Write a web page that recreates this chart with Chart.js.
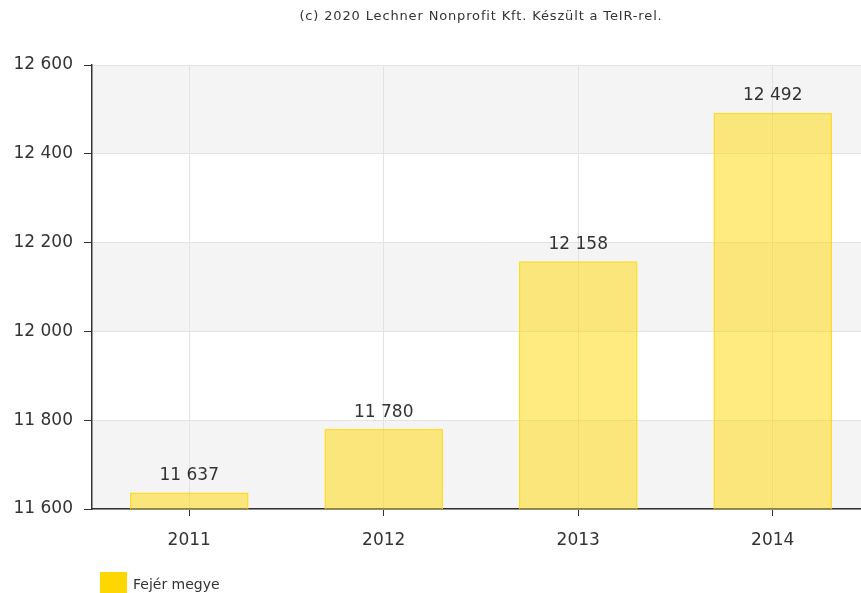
<!DOCTYPE html>
<html><head><meta charset="utf-8">
<script src="https://cdn.jsdelivr.net/npm/chart.js@4/dist/chart.umd.min.js"></script>
<style>
html,body{margin:0;padding:0;overflow:hidden;background:#fff;width:861px;height:593px}
#wrap{position:absolute;left:0;top:0;width:871px;height:593px}
</style></head><body>
<div id="wrap"><canvas id="c" width="871" height="593"></canvas></div>
<script>
const categories = ['2011', '2012', '2013', '2014'];
const values = [11637, 11780, 12158, 12492];
const seriesName = 'Fejér megye';
const titleText = '(c) 2020 Lechner Nonprofit Kft. Készült a TeIR-rel.';
const yMin = 11600, yMax = 12600, yStep = 200;

const FONT = '"DejaVu Sans", Verdana, sans-serif';
const fmt = v => String(v).replace(/\B(?=(\d{3})+(?!\d))/g, ' ');

const bandsPlugin = {
  id: 'bands',
  beforeDraw(chart) {
    const {ctx, chartArea: a, scales: {y}} = chart;
    ctx.save();
    ctx.fillStyle = '#f4f4f4';
    for (let v = yMin; v < yMax; v += 2 * yStep) {
      const y1 = y.getPixelForValue(v), y2 = y.getPixelForValue(v + yStep);
      ctx.fillRect(a.left, y2, a.right - a.left, y1 - y2);
    }
    ctx.restore();
  }
};

const labelsPlugin = {
  id: 'extras',
  afterDraw(chart) {
    const ctx = chart.ctx;
    ctx.save();
    // data labels
    ctx.font = '17px ' + FONT;
    ctx.fillStyle = '#333';
    ctx.textAlign = 'center';
    ctx.textBaseline = 'middle';
    chart.getDatasetMeta(0).data.forEach((bar, i) => {
      ctx.fillText(fmt(values[i]), bar.x, bar.y - 17);
    });
    // title
    ctx.font = '13px ' + FONT;
    ctx.letterSpacing = '0.85px';
    ctx.fillText(titleText, 481, 17);
    ctx.letterSpacing = '0px';
    // legend
    ctx.fillStyle = '#ffd700';
    ctx.fillRect(100, 572, 27, 22);
    ctx.fillStyle = '#333';
    ctx.textAlign = 'left';
    ctx.font = '14px ' + FONT;
    ctx.fillText(seriesName, 133, 585);
    ctx.restore();
  }
};

new Chart(document.getElementById('c'), {
  type: 'bar',
  data: {
    labels: categories,
    datasets: [{
      label: seriesName,
      data: values,
      backgroundColor: 'rgba(255,215,0,0.5)',
      borderColor: 'rgba(255,215,0,0.85)',
      borderWidth: 1.5,
      barPercentage: 0.61,
      categoryPercentage: 1
    }]
  },
  plugins: [bandsPlugin, labelsPlugin],
  options: {
    responsive: false,
    animation: false,
    layout: {padding: {top: 65, right: 1, left: 0, bottom: 0}},
    plugins: {legend: {display: false}, title: {display: false}, tooltip: {enabled: false}},
    scales: {
      x: {
        grid: {offset: false, color: '#e3e3e3', tickColor: '#333', tickLength: 7, lineWidth: 1},
        border: {color: '#333', width: 1.5},
        ticks: {color: '#333', font: {family: FONT, size: 17}, padding: 14},
        afterFit(s) { s.height = 84; }
      },
      y: {
        min: yMin, max: yMax,
        grid: {color: '#e3e3e3', tickColor: '#333', tickLength: 8},
        border: {color: '#333', width: 1.5},
        ticks: {stepSize: yStep, color: '#333', font: {family: FONT, size: 17}, padding: 11,
                callback: v => fmt(v)},
        afterFit(s) { s.width = 92; }
      }
    }
  }
});
</script>
</body></html>
